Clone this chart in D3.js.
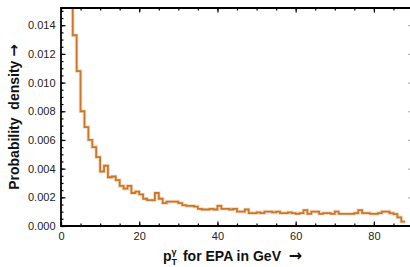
<!DOCTYPE html>
<html>
<head>
<meta charset="utf-8">
<script src="https://cdn.jsdelivr.net/npm/d3@7"></script>
<style>
	body { margin: 0; background: #fff; }
	svg { display: block; }
</style>
</head>
<body>
<div id="chart"></div>
<script>
	//bins are 1 GeV wide, first bin (2-3 GeV) is off the top of the plot
	var binStart = 2,
		binWidth = 1;

	//probability density per bin
	var density = [
		0.0165, 0.0133, 0.0108, 0.0080, 0.0069, 0.0060, 0.0055, 0.0048, 0.0038, 0.0042,
		0.0034, 0.00345, 0.0032, 0.0028, 0.0026, 0.0028, 0.0023, 0.0024, 0.0022, 0.0019,
		0.0018, 0.0018, 0.0023, 0.0019, 0.0016, 0.0017, 0.0017, 0.0017, 0.0016, 0.00145,
		0.0014, 0.0014, 0.00135, 0.0012, 0.00115, 0.00115, 0.0012, 0.00115, 0.0014, 0.0012,
		0.0012, 0.00115, 0.0012, 0.0010, 0.0010, 0.00115, 0.0009, 0.0009, 0.00095, 0.0009,
		0.0010, 0.0010, 0.00095, 0.0010, 0.0009, 0.0009, 0.00095, 0.0009, 0.00085, 0.0009,
		0.0011, 0.00085, 0.0010, 0.0010, 0.00085, 0.0009, 0.0009, 0.00085, 0.0010, 0.00085,
		0.00085, 0.00085, 0.00085, 0.0009, 0.0011, 0.0009, 0.0009, 0.00085, 0.00085, 0.0009,
		0.0010, 0.0010, 0.0009, 0.00083, 0.0006, 0.0003
	];

	var xTicks = [0, 20, 40, 60, 80],
		xMinor = [0, 5, 10, 15, 20, 25, 30, 35, 40, 45, 50, 55, 60, 65, 70, 75, 80, 85],
		yTicks = [0, 0.002, 0.004, 0.006, 0.008, 0.010, 0.012, 0.014],
		yTickLabels = ["0.000", "0.002", "0.004", "0.006", "0.008", "0.010", "0.012", "0.014"];

	var width = 410,
		height = 267,
		padLeft = 61,
		padRight = 413,
		padTop = 8,
		padBottom = 226,
		lineColor = "#cc7627",
		font = "'Liberation Sans', Arial, sans-serif";

	var svg = d3.select("#chart").append("svg")
				.attr("width", width)
				.attr("height", height);

	var x = d3.scaleLinear().domain([0, 90]).range([padLeft, padRight]);
	var y = d3.scaleLinear().domain([0, 0.0152]).range([padBottom, padTop]);

	//step points: each bin start plus the last bin end
	var pts = density.map(function(d, i){
		return [binStart + i * binWidth, d];
	});
	pts.push([binStart + density.length * binWidth, density[density.length - 1]]);

	svg.append("clipPath").attr("id", "plotclip")
		.append("rect")
		.attr("x", padLeft).attr("y", padTop)
		.attr("width", padRight - padLeft).attr("height", padBottom - padTop);

	var step = d3.line()
		.x(function(d){ return x(d[0]); })
		.y(function(d){ return y(d[1]); })
		.curve(d3.curveStepAfter);

	var plot = svg.append("g").attr("clip-path", "url(#plotclip)");

	//soft halo then the line
	plot.append("path")
		.attr("d", step(pts))
		.attr("fill", "none")
		.attr("stroke", lineColor)
		.attr("stroke-opacity", 0.25)
		.attr("stroke-width", 3.6);

	plot.append("path")
		.attr("d", step(pts))
		.attr("fill", "none")
		.attr("stroke", lineColor)
		.attr("stroke-width", 1.8);

	//frame ticks, all pointing inward
	function tidy(g){
		g.select(".domain").remove();
		g.selectAll(".tick line").attr("stroke", "#000").attr("stroke-width", 1.2);
		g.selectAll("text")
			.attr("font-family", font)
			.attr("font-size", 11)
			.attr("fill", "#222");
	}

	svg.append("g")
		.attr("transform", "translate(0," + padBottom + ")")
		.call(d3.axisBottom(x).tickValues(xMinor).tickSize(-2.5).tickFormat(""))
		.call(tidy);

	svg.append("g")
		.attr("transform", "translate(0," + padBottom + ")")
		.call(d3.axisBottom(x).tickValues(xTicks).tickSize(-4.5).tickPadding(6).tickFormat(d3.format("d")))
		.call(tidy);

	svg.append("g")
		.attr("transform", "translate(0," + padTop + ")")
		.call(d3.axisTop(x).tickValues(xMinor).tickSize(-2.5).tickFormat(""))
		.call(tidy);

	svg.append("g")
		.attr("transform", "translate(0," + padTop + ")")
		.call(d3.axisTop(x).tickValues(xTicks).tickSize(-4.5).tickFormat(""))
		.call(tidy);

	var yMinor = d3.range(0, 0.0151, 0.0005);

	svg.append("g")
		.attr("transform", "translate(" + padLeft + ",0)")
		.call(d3.axisLeft(y).tickValues(yMinor).tickSize(-2.5).tickFormat(""))
		.call(tidy);

	svg.append("g")
		.attr("transform", "translate(" + padLeft + ",0)")
		.call(d3.axisLeft(y).tickValues(yTicks).tickSize(-4.5).tickPadding(5.5)
			.tickFormat(function(d, i){ return yTickLabels[i]; }))
		.call(tidy);

	svg.append("g")
		.attr("transform", "translate(" + padRight + ",0)")
		.call(d3.axisRight(y).tickValues(yTicks).tickSize(-4.5).tickFormat(""))
		.call(tidy)
		.selectAll(".tick line").attr("stroke", "#999");

	//frame
	svg.append("path")
		.attr("d", "M" + padLeft + "," + padTop + "V" + padBottom + "H" + padRight + "V" + padTop + "Z")
		.attr("fill", "none")
		.attr("stroke", "#000")
		.attr("stroke-width", 1.8);

	//axis titles
	var xt = svg.append("text")
		.attr("x", 163)
		.attr("y", 261)
		.attr("font-family", font)
		.attr("font-weight", "bold")
		.attr("font-size", 14)
		.attr("fill", "#111");
	xt.append("tspan").text("p");
	var gam = xt.append("tspan").attr("font-size", 9).attr("dy", -6).text("\u03b3");
	var gw = gam.node().getComputedTextLength();
	xt.append("tspan").attr("font-size", 9).attr("dx", -gw).attr("dy", 10).text("T");
	xt.append("tspan").attr("dy", -4).attr("dx", 2).text(" for EPA in GeV \u00a0");
	xt.append("tspan").attr("font-family", "'DejaVu Sans', sans-serif").attr("font-size", 16).text("\u2192");

	var yt = svg.append("text")
		.attr("transform", "translate(19,117) rotate(-90)")
		.attr("text-anchor", "middle")
		.attr("font-family", font)
		.attr("font-weight", "bold")
		.attr("font-size", 14)
		.attr("fill", "#111");
	yt.append("tspan").text("Probability\u00a0 density ");
	yt.append("tspan").attr("font-family", "'DejaVu Sans', sans-serif").attr("font-size", 15).text("\u2192");
</script>
</body>
</html>
